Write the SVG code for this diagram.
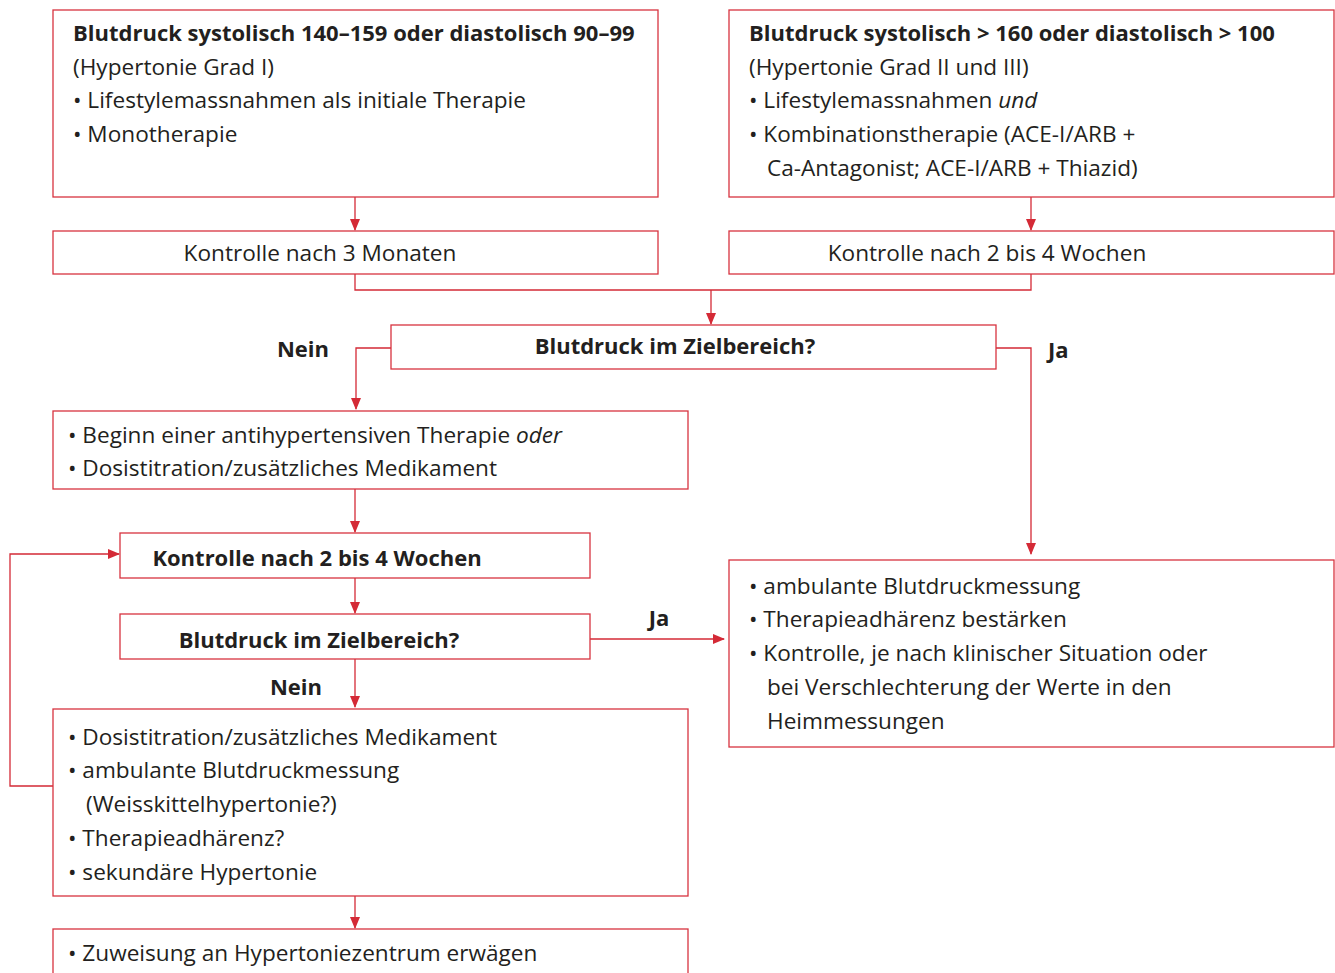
<svg xmlns="http://www.w3.org/2000/svg" width="1335" height="973" viewBox="0 0 1335 973">
<style>
.box{fill:#fff;stroke:#d8333f;stroke-width:1.3}
.ln{fill:none;stroke:#d42a36;stroke-width:1.3}
text{font-family:"Open Sans","Noto Sans",sans-serif;font-size:22.6px;fill:#231f20}
.b{font-weight:bold;font-size:22px}
.c{text-anchor:middle}
</style>
<defs>
<marker id="ah" markerWidth="12" markerHeight="10" refX="11" refY="5" orient="auto" markerUnits="userSpaceOnUse">
<path d="M0,0 L12,5 L0,10 Z" fill="#d42a36"/>
</marker>
</defs>
<rect width="1335" height="973" fill="#fff"/>
<g id="connectors">
<line class="ln" x1="355" y1="197" x2="355" y2="230" marker-end="url(#ah)"/>
<line class="ln" x1="1031" y1="197" x2="1031" y2="230" marker-end="url(#ah)"/>
<polyline class="ln" points="355,274 355,290 1031,290 1031,274"/>
<line class="ln" x1="711" y1="290" x2="711" y2="324" marker-end="url(#ah)"/>
<polyline class="ln" points="391,348 356,348 356,409" marker-end="url(#ah)"/>
<polyline class="ln" points="996,348 1031,348 1031,554" marker-end="url(#ah)"/>
<line class="ln" x1="355" y1="489" x2="355" y2="532" marker-end="url(#ah)"/>
<line class="ln" x1="355" y1="578" x2="355" y2="613" marker-end="url(#ah)"/>
<line class="ln" x1="590" y1="639" x2="724" y2="639" marker-end="url(#ah)"/>
<line class="ln" x1="355" y1="659" x2="355" y2="707" marker-end="url(#ah)"/>
<polyline class="ln" points="53,786 10,786 10,554 119,554" marker-end="url(#ah)"/>
<line class="ln" x1="355" y1="896" x2="355" y2="928" marker-end="url(#ah)"/>
<text class="b c" x="303" y="357">Nein</text>
<text class="b" x="1048" y="358">Ja</text>
<text class="b c" x="659" y="626">Ja</text>
<text class="b c" x="296" y="695">Nein</text>
</g>
<g id="n1">
<rect class="box" x="53" y="10" width="605" height="187"/>
<text class="b" x="73" y="41">Blutdruck systolisch 140–159 oder diastolisch 90–99</text>
<text x="73" y="75">(Hypertonie Grad I)</text>
<text x="73" y="108">• Lifestylemassnahmen als initiale Therapie</text>
<text x="73" y="142">• Monotherapie</text>
</g>
<g id="n2">
<rect class="box" x="729" y="10" width="605" height="187"/>
<text class="b" x="749" y="41">Blutdruck systolisch &gt; 160 oder diastolisch &gt; 100</text>
<text x="749" y="75">(Hypertonie Grad II und III)</text>
<text x="749" y="108">• Lifestylemassnahmen <tspan font-style="italic">und</tspan></text>
<text x="749" y="142">• Kombinationstherapie (ACE-I/ARB +</text>
<text x="767" y="176">Ca-Antagonist; ACE-I/ARB + Thiazid)</text>
</g>
<g id="n3">
<rect class="box" x="53" y="231" width="605" height="43"/>
<text class="c" x="320" y="261">Kontrolle nach 3 Monaten</text>
</g>
<g id="n4">
<rect class="box" x="729" y="231" width="605" height="43"/>
<text class="c" x="987" y="261">Kontrolle nach 2 bis 4 Wochen</text>
</g>
<g id="n5">
<rect class="box" x="391" y="325" width="605" height="44"/>
<text class="b c" x="675" y="354">Blutdruck im Zielbereich?</text>
</g>
<g id="n6">
<rect class="box" x="53" y="411" width="635" height="78"/>
<text x="68" y="443">• Beginn einer antihypertensiven Therapie <tspan font-style="italic">oder</tspan></text>
<text x="68" y="476">• Dosistitration/zusätzliches Medikament</text>
</g>
<g id="n7">
<rect class="box" x="120" y="533" width="470" height="45"/>
<text class="b c" x="317" y="566">Kontrolle nach 2 bis 4 Wochen</text>
</g>
<g id="n8">
<rect class="box" x="120" y="614" width="470" height="45"/>
<text class="b c" x="319" y="648">Blutdruck im Zielbereich?</text>
</g>
<g id="n9">
<rect class="box" x="729" y="560" width="605" height="187"/>
<text x="749" y="594">• ambulante Blutdruckmessung</text>
<text x="749" y="627">• Therapieadhärenz bestärken</text>
<text x="749" y="661">• Kontrolle, je nach klinischer Situation oder</text>
<text x="767" y="695">bei Verschlechterung der Werte in den</text>
<text x="767" y="729">Heimmessungen</text>
</g>
<g id="n10">
<rect class="box" x="53" y="709" width="635" height="187"/>
<text x="68" y="745">• Dosistitration/zusätzliches Medikament</text>
<text x="68" y="778">• ambulante Blutdruckmessung</text>
<text x="86" y="812">(Weisskittelhypertonie?)</text>
<text x="68" y="846">• Therapieadhärenz?</text>
<text x="68" y="880">• sekundäre Hypertonie</text>
</g>
<g id="n11">
<rect class="box" x="53" y="929" width="635" height="60"/>
<text x="68" y="961">• Zuweisung an Hypertoniezentrum erwägen</text>
</g>
</svg>
